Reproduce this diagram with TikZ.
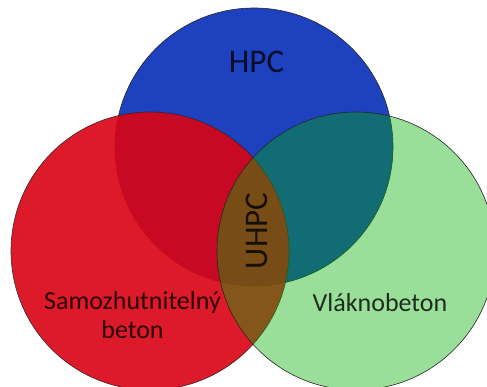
\documentclass[tikz,border=0pt]{standalone}
\usepackage{fontspec}
\setmainfont{Carlito}
\definecolor{cblue}{RGB}{29,65,191}
\definecolor{cred}{RGB}{217,4,21}
\definecolor{cgreen}{RGB}{0,177,2}
\begin{document}
\begin{tikzpicture}[x=1pt,y=1pt,
  set/.style={draw=black!85, line width=0.6pt},
  lbl/.style={inner sep=0pt, text=black, text opacity=0.8, anchor=base},
  big/.style={font=\fontsize{33}{40}\selectfont},
  small/.style={font=\fontsize{26}{29}\selectfont}]
\useasboundingbox (0,0) rectangle (487,387);
\clip (0,0) rectangle (487,387);
\fill[white] (0,0) rectangle (487,387);
\path[set, fill=cblue] (254,240) circle[radius=139];
\path[set, fill=cred, fill opacity=0.91, draw opacity=0.91] (150,136) circle[radius=139];
\path[set, fill=cgreen, fill opacity=0.4] (356,136) circle[radius=139];
\node[lbl, big] (hpc) at (256.5,314) {HPC};
\node[lbl, big, rotate=90] (uhpc) at (267,231-75) {UHPC};
\node[lbl, small] (samo) at (132.5,77) {Samozhutnitelný};
\node[lbl, small] (beton) at (132.5,48) {beton};
\node[lbl, small] (vlakno) at (380,75) {Vláknobeton};
\end{tikzpicture}
\end{document}
